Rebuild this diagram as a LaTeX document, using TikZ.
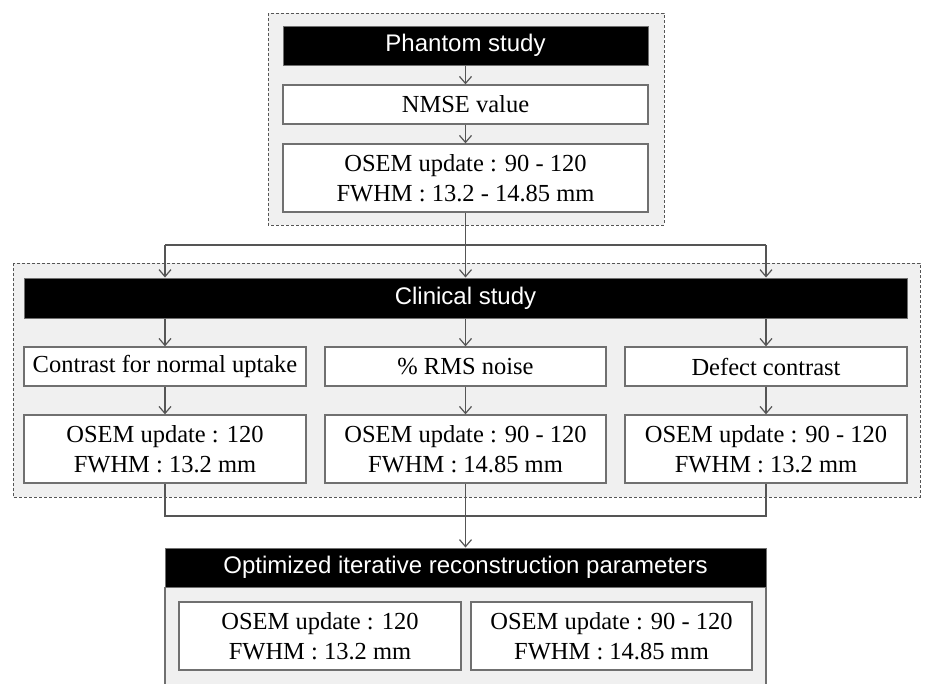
\documentclass[tikz,border=0pt]{standalone}
\usepackage{fontspec}
\setmainfont{Liberation Serif}
\setsansfont{Liberation Sans}
\usetikzlibrary{arrows.meta}
\definecolor{panel}{HTML}{F0F0F0}
\definecolor{edge}{HTML}{707070}
\definecolor{dashc}{HTML}{555555}
\definecolor{connc}{HTML}{555555}
\begin{document}
\begin{tikzpicture}[x=1pt,y=-1pt,
  box/.style={draw=edge, line width=1.3pt, fill=white, inner sep=0pt, align=center,
    font=\fontsize{24.5}{30}\selectfont},
  bar/.style={draw=edge, line width=1pt, fill=black, text=white, inner sep=0pt,
    font=\sffamily\fontsize{24}{28}\selectfont},
  panelbox/.style={draw=dashc, dash pattern=on 3pt off 2pt, fill=panel, line width=1pt},
  conn/.style={draw=connc, line width=1.2pt},
  arr/.style={conn, -{Straight Barb[length=7pt,width=12pt]}}]
\useasboundingbox (0,0) rectangle (925,683);
\fill[white] (0,0) rectangle (925,683);
% panels
\path[panelbox] (268,13) rectangle (664,225);
\path[panelbox] (13,263) rectangle (920,497);
\fill[panel] (165,587) rectangle (766,690);
\draw[edge, line width=1.3pt] (165,587) -- (165,690) (766,587) -- (766,690);
% phantom study
\node[bar, minimum width=365pt, minimum height=39pt] (ph) at (465.5,45.5) {Phantom study};
\node[box, minimum width=365pt, minimum height=39pt] (nmse) at (465.5,104.5) {NMSE value};
\node[box, minimum width=365pt, minimum height=68pt] (osem) at (465.5,178) {OSEM update : 90 - 120\\FWHM : 13.2 - 14.85 mm};
% clinical study
\node[bar, minimum width=883pt, minimum height=40pt] (clin) at (465.5,298) {Clinical study};
\node[box, minimum width=282pt, minimum height=39pt] (c1) at (165,366.5) {Contrast for normal uptake};
\node[box, minimum width=281pt, minimum height=39pt] (c2) at (465.5,366.5) {\% RMS noise};
\node[box, minimum width=282pt, minimum height=39pt] (c3) at (766,366.5) {Defect contrast};
\node[box, minimum width=282pt, minimum height=68pt] (o1) at (165,449) {OSEM update : 120\\FWHM : 13.2 mm};
\node[box, minimum width=281pt, minimum height=68pt] (o2) at (465.5,449) {OSEM update : 90 - 120\\FWHM : 14.85 mm};
\node[box, minimum width=282pt, minimum height=68pt] (o3) at (766,449) {OSEM update : 90 - 120\\FWHM : 13.2 mm};
% optimized
\node[bar, minimum width=601pt, minimum height=39pt] (opt) at (465.5,567.5) {Optimized iterative reconstruction parameters};
\node[box, minimum width=282pt, minimum height=68pt] (r1) at (320,636) {OSEM update : 120\\FWHM : 13.2 mm};
\node[box, minimum width=281pt, minimum height=68pt] (r2) at (611.5,636) {OSEM update : 90 - 120\\FWHM : 14.85 mm};
% connectors
\draw[arr] (ph) -- (nmse);
\draw[arr] (nmse) -- (osem);
\coordinate (split) at (465.5,245);
\coordinate (sl) at (165,245);
\coordinate (sr) at (766,245);
\draw[conn] (osem.south) -- (split);
\draw[conn] (sl) -- (sr);
\draw[arr] (sl) -- (sl |- clin.north);
\draw[arr] (split) -- (clin.north);
\draw[arr] (sr) -- (sr |- clin.north);
\draw[arr] (c1.north |- clin.south) -- (c1.north);
\draw[arr] (c2.north |- clin.south) -- (c2.north);
\draw[arr] (c3.north |- clin.south) -- (c3.north);
\draw[arr] (c1) -- (o1);
\draw[arr] (c2) -- (o2);
\draw[arr] (c3) -- (o3);
\coordinate (jl) at (165,516);
\coordinate (jm) at (465.5,516);
\coordinate (jr) at (766,516);
\draw[conn] (o1.south) -- (jl) -- (jr) -- (o3.south);
\draw[conn] (o2.south) -- (jm);
\draw[arr] (jm) -- (opt.north);
\end{tikzpicture}
\end{document}
